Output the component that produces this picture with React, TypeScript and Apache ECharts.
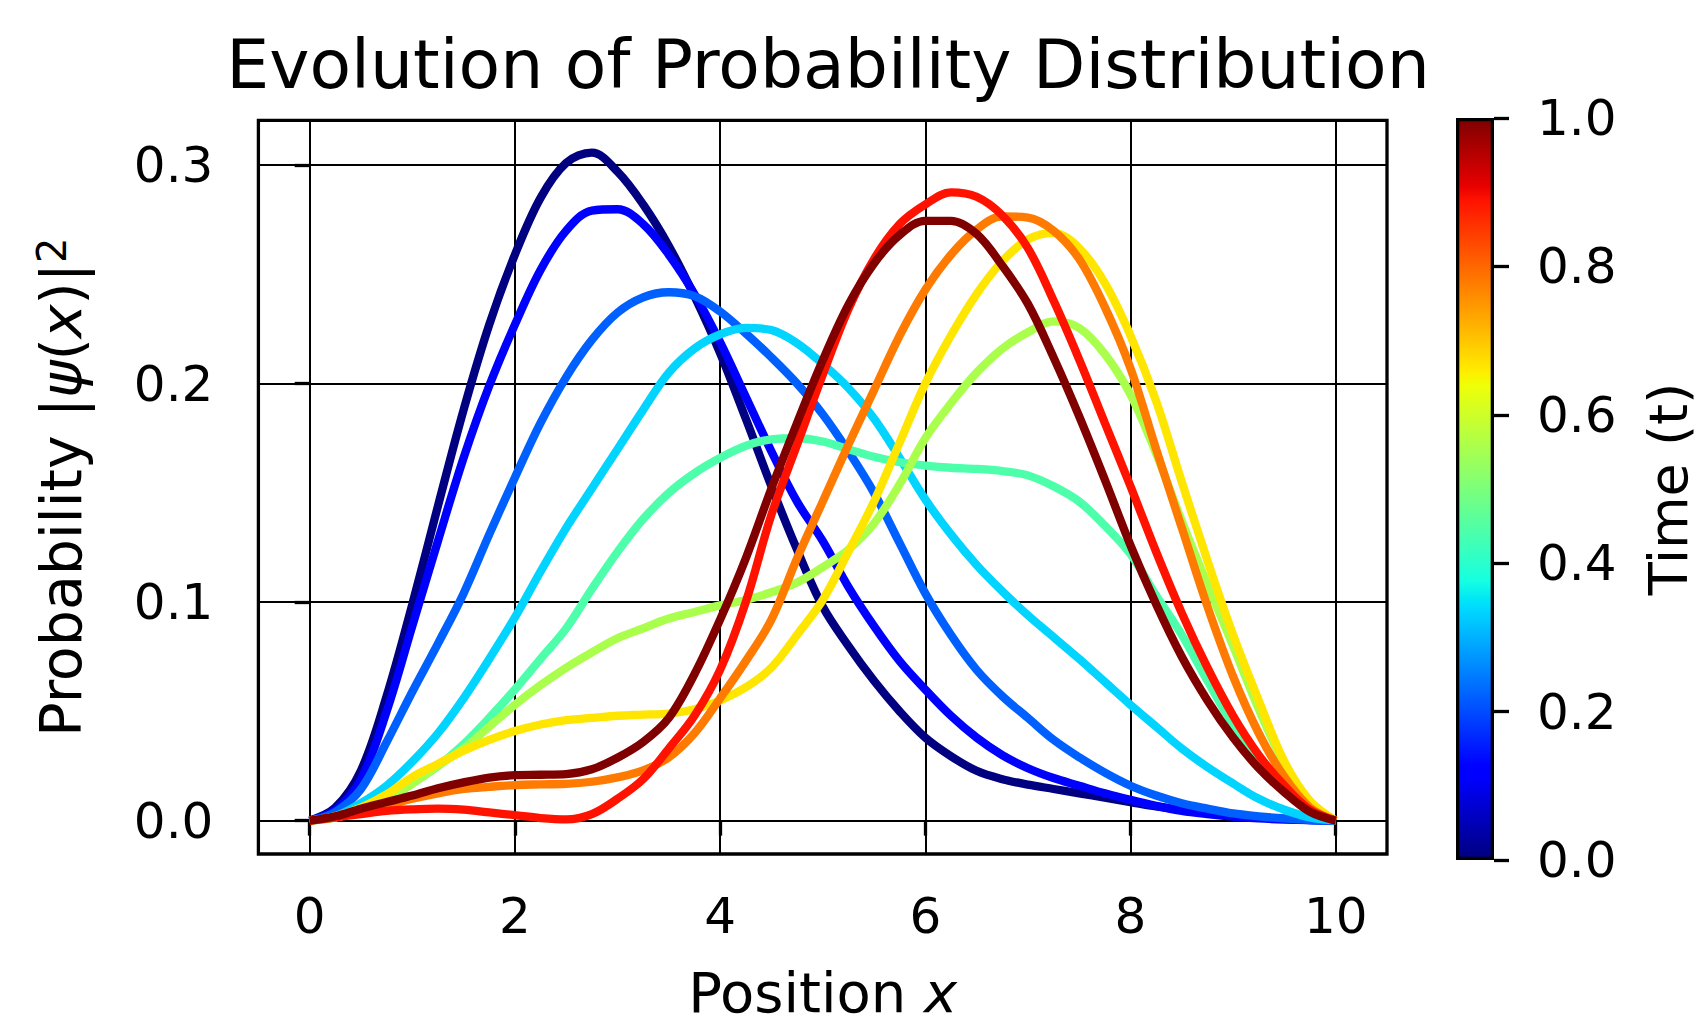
import React, { useEffect, useRef } from "react";
import * as echarts from "echarts";

const FONT = "DejaVu Sans";

const X_POS = [
  0, 0.25, 0.5, 0.75, 1, 1.25, 1.5, 1.75, 2, 2.25, 2.5, 2.75, 3, 3.25, 3.5, 3.75, 4, 4.25, 4.5, 4.75,
  5, 5.25, 5.5, 5.75, 6, 6.25, 6.5, 6.75, 7, 7.25, 7.5, 7.75, 8, 8.25, 8.5, 8.75, 9, 9.25, 9.5, 9.75, 10,
];

const TIMES = [0, 0.111, 0.222, 0.333, 0.444, 0.556, 0.667, 0.778, 0.889, 1.0];
const CURVE_COLORS = ["#000080", "#0000ff", "#0060ff", "#00d4ff", "#4dffaa", "#aaff4d", "#ffe600", "#ff7a00", "#ff1300", "#800000"];

const PROB_T0 = [0, 0.006, 0.023, 0.057, 0.099, 0.144, 0.188, 0.227, 0.259, 0.285, 0.301, 0.3057, 0.297, 0.282, 0.263, 0.240, 0.214, 0.184, 0.153, 0.124, 0.098, 0.080, 0.064, 0.050, 0.038, 0.0295, 0.0228, 0.019, 0.0165, 0.0145, 0.0125, 0.0105, 0.0085, 0.0065, 0.0048, 0.0035, 0.0024, 0.0015, 0.0008, 0.0003, 0];
const PROB_T1 = [0, 0.005, 0.019, 0.050, 0.089, 0.128, 0.166, 0.199, 0.227, 0.252, 0.270, 0.2792, 0.2798, 0.273, 0.259, 0.241, 0.219, 0.194, 0.169, 0.146, 0.128, 0.107, 0.089, 0.073, 0.060, 0.048, 0.038, 0.030, 0.024, 0.0195, 0.016, 0.0125, 0.0095, 0.0068, 0.0045, 0.003, 0.0018, 0.001, 0.0005, 0.0002, 0];
const PROB_T2 = [0, 0.004, 0.0145, 0.036, 0.059, 0.081, 0.104, 0.131, 0.157, 0.182, 0.203, 0.220, 0.2325, 0.2395, 0.2418, 0.240, 0.233, 0.223, 0.212, 0.200, 0.186, 0.169, 0.150, 0.127, 0.104, 0.085, 0.069, 0.057, 0.047, 0.037, 0.029, 0.022, 0.016, 0.0115, 0.008, 0.0055, 0.0033, 0.002, 0.001, 0.0003, 0];
const PROB_T3 = [0, 0.002, 0.008, 0.016, 0.027, 0.040, 0.056, 0.074, 0.093, 0.114, 0.134, 0.152, 0.170, 0.188, 0.205, 0.216, 0.2225, 0.2255, 0.2245, 0.2185, 0.209, 0.198, 0.184, 0.166, 0.147, 0.131, 0.117, 0.105, 0.094, 0.084, 0.074, 0.0635, 0.053, 0.043, 0.033, 0.0245, 0.017, 0.010, 0.005, 0.0015, 0];
const PROB_T4 = [0, 0.0015, 0.005, 0.010, 0.017, 0.025, 0.035, 0.047, 0.060, 0.074, 0.088, 0.106, 0.123, 0.138, 0.150, 0.159, 0.166, 0.1715, 0.1745, 0.175, 0.1735, 0.170, 0.1665, 0.164, 0.1625, 0.1615, 0.161, 0.160, 0.158, 0.153, 0.146, 0.135, 0.122, 0.103, 0.085, 0.064, 0.044, 0.028, 0.015, 0.005, 0];
const PROB_T5 = [0, 0.0015, 0.005, 0.010, 0.017, 0.025, 0.033, 0.043, 0.053, 0.062, 0.070, 0.077, 0.0835, 0.088, 0.0925, 0.0955, 0.0985, 0.101, 0.1045, 0.109, 0.116, 0.124, 0.136, 0.154, 0.175, 0.191, 0.205, 0.216, 0.2235, 0.2285, 0.2255, 0.2135, 0.195, 0.168, 0.137, 0.108, 0.080, 0.051, 0.026, 0.008, 0];
const PROB_T6 = [0, 0.002, 0.006, 0.012, 0.020, 0.026, 0.032, 0.037, 0.041, 0.044, 0.046, 0.047, 0.048, 0.0485, 0.049, 0.051, 0.055, 0.061, 0.070, 0.085, 0.101, 0.123, 0.146, 0.173, 0.200, 0.222, 0.241, 0.256, 0.266, 0.269, 0.262, 0.246, 0.222, 0.192, 0.155, 0.119, 0.085, 0.055, 0.027, 0.009, 0];
const PROB_T7 = [0, 0.0015, 0.004, 0.007, 0.010, 0.0125, 0.0145, 0.0155, 0.0163, 0.0166, 0.0168, 0.0178, 0.0198, 0.023, 0.029, 0.040, 0.056, 0.073, 0.092, 0.120, 0.146, 0.172, 0.197, 0.222, 0.243, 0.259, 0.2705, 0.2765, 0.276, 0.270, 0.257, 0.235, 0.207, 0.170, 0.134, 0.098, 0.066, 0.040, 0.020, 0.006, 0];
const PROB_T8 = [0, 0.0015, 0.003, 0.0045, 0.0052, 0.0055, 0.005, 0.0038, 0.0025, 0.0012, 0.0006, 0.003, 0.010, 0.019, 0.033, 0.048, 0.069, 0.100, 0.140, 0.172, 0.204, 0.234, 0.257, 0.273, 0.282, 0.2875, 0.2855, 0.277, 0.262, 0.238, 0.211, 0.182, 0.153, 0.123, 0.095, 0.070, 0.048, 0.030, 0.016, 0.005, 0];
const PROB_T9 = [0, 0.002, 0.0055, 0.0085, 0.0115, 0.0148, 0.0175, 0.0197, 0.0208, 0.021, 0.0213, 0.0235, 0.0288, 0.036, 0.047, 0.067, 0.092, 0.120, 0.152, 0.182, 0.2106, 0.236, 0.255, 0.268, 0.2745, 0.2745, 0.2685, 0.254, 0.2365, 0.212, 0.185, 0.156, 0.126, 0.099, 0.075, 0.055, 0.038, 0.024, 0.013, 0.004, 0];

const PROB_SERIES = [PROB_T0, PROB_T1, PROB_T2, PROB_T3, PROB_T4, PROB_T5, PROB_T6, PROB_T7, PROB_T8, PROB_T9];

const X_TICKS = [0, 2, 4, 6, 8, 10];
const Y_TICKS = [0, 0.1, 0.2, 0.3];

const JET_STOPS: [number, string][] = [
  [0, "#000080"], [0.11, "#0000ff"], [0.125, "#0000ff"], [0.34, "#00dbff"],
  [0.35, "#00e6f7"], [0.375, "#15ffe2"], [0.64, "#efff08"], [0.65, "#f7f600"],
  [0.66, "#ffec00"], [0.89, "#ff1300"], [0.91, "#e80000"], [1, "#800000"],
];

export default function App() {
  const ref = useRef<HTMLDivElement>(null);

  useEffect(() => {
    if (!ref.current) return;
    const chart = echarts.init(ref.current, undefined, { renderer: "svg" });

    const lineSeries = PROB_SERIES.map((vals, k) => ({
      type: "line",
      name: "t=" + TIMES[k].toFixed(2),
      xAxisIndex: 0,
      yAxisIndex: 0,
      data: X_POS.map((x, i) => [x, vals[i]]),
      smooth: 0.35,
      showSymbol: false,
      symbol: "none",
      lineStyle: { color: CURVE_COLORS[k], width: 8.3 },
      itemStyle: { color: CURVE_COLORS[k] },
      silent: true,
    }));

    const option: any = {
      animation: false,
      backgroundColor: "#ffffff",
      textStyle: { fontFamily: FONT, color: "#000" },
      title: {
        text: "Evolution of Probability Distribution",
        left: 823,
        top: 25,
        textAlign: "center",
        textStyle: { fontFamily: FONT, fontSize: 68, fontWeight: "normal", color: "#000" },
      },
      grid: [
        { left: 258.4, top: 120.3, width: 1128.6, height: 740.7, show: true, borderColor: "#000", borderWidth: 3.3, backgroundColor: "transparent" },
        { left: 1456, top: 118, width: 38, height: 742, show: false },
      ],
      xAxis: [
        {
          type: "value",
          gridIndex: 0,
          min: -0.5,
          max: 10.5,
          axisLine: { show: false },
          axisTick: { show: true, customValues: X_TICKS, length: 15, lineStyle: { color: "#000", width: 3.3 } },
          axisLabel: { customValues: X_TICKS, margin: 37, fontSize: 50, fontFamily: FONT, color: "#000", formatter: (v: number) => String(v) },
          splitLine: { show: true, lineStyle: { color: "#000", width: 2 } },
          name: "Position {i|x}",
          nameLocation: "middle",
          nameGap: 110,
          nameTextStyle: { fontSize: 56, fontFamily: FONT, color: "#000", rich: { i: { fontSize: 56, fontFamily: FONT, fontStyle: "italic", color: "#000" } } },
        },
        {
          type: "category",
          gridIndex: 1,
          data: ["cb"],
          show: false,
        },
      ],
      yAxis: [
        {
          type: "value",
          gridIndex: 0,
          min: -0.01526,
          max: 0.3205,
          axisLine: { show: false },
          axisTick: { show: true, customValues: Y_TICKS, length: 15, lineStyle: { color: "#000", width: 3.3 } },
          axisLabel: { customValues: Y_TICKS, margin: 45, fontSize: 50, fontFamily: FONT, color: "#000", formatter: (v: number) => v.toFixed(1) },
          splitLine: { show: true, lineStyle: { color: "#000", width: 2 } },
          name: "Probability |{i|ψ}({i|x})|{s|2}",
          nameLocation: "middle",
          nameRotate: 90,
          nameGap: 169,
          nameTextStyle: {
            fontSize: 57,
            fontFamily: FONT,
            color: "#000",
            rich: {
              i: { fontSize: 57, fontFamily: FONT, fontStyle: "italic", color: "#000" },
              s: { fontSize: 40, fontFamily: FONT, color: "#000", verticalAlign: "top", lineHeight: 25 },
            },
          },
        },
        {
          type: "value",
          gridIndex: 1,
          position: "right",
          min: 0,
          max: 1,
          interval: 0.2,
          axisLine: { show: false },
          axisTick: { show: true, length: 15, lineStyle: { color: "#000", width: 3.3 } },
          axisLabel: { margin: 43, fontSize: 50, fontFamily: FONT, color: "#000", formatter: (v: number) => v.toFixed(1) },
          splitLine: { show: false },
          name: "Time (t)",
          nameLocation: "middle",
          nameRotate: 90,
          nameGap: 147,
          nameTextStyle: { fontSize: 54, fontFamily: FONT, color: "#000" },
        },
      ],
      series: [
        ...lineSeries,
        {
          type: "bar",
          xAxisIndex: 1,
          yAxisIndex: 1,
          data: [1],
          barWidth: "100%",
          silent: true,
          itemStyle: {
            color: {
              type: "linear",
              x: 0, y: 1, x2: 0, y2: 0,
              colorStops: JET_STOPS.map(([offset, color]) => ({ offset, color })),
            },
            borderColor: "#000",
            borderWidth: 3.3,
          },
        },
      ],
    };

    chart.setOption(option);
    return () => chart.dispose();
  }, []);

  return (
    <div
      ref={ref}
      style={{ position: "absolute", left: 0, top: 0, width: 1700, height: 1025, background: "#fff" }}
    />
  );
}
